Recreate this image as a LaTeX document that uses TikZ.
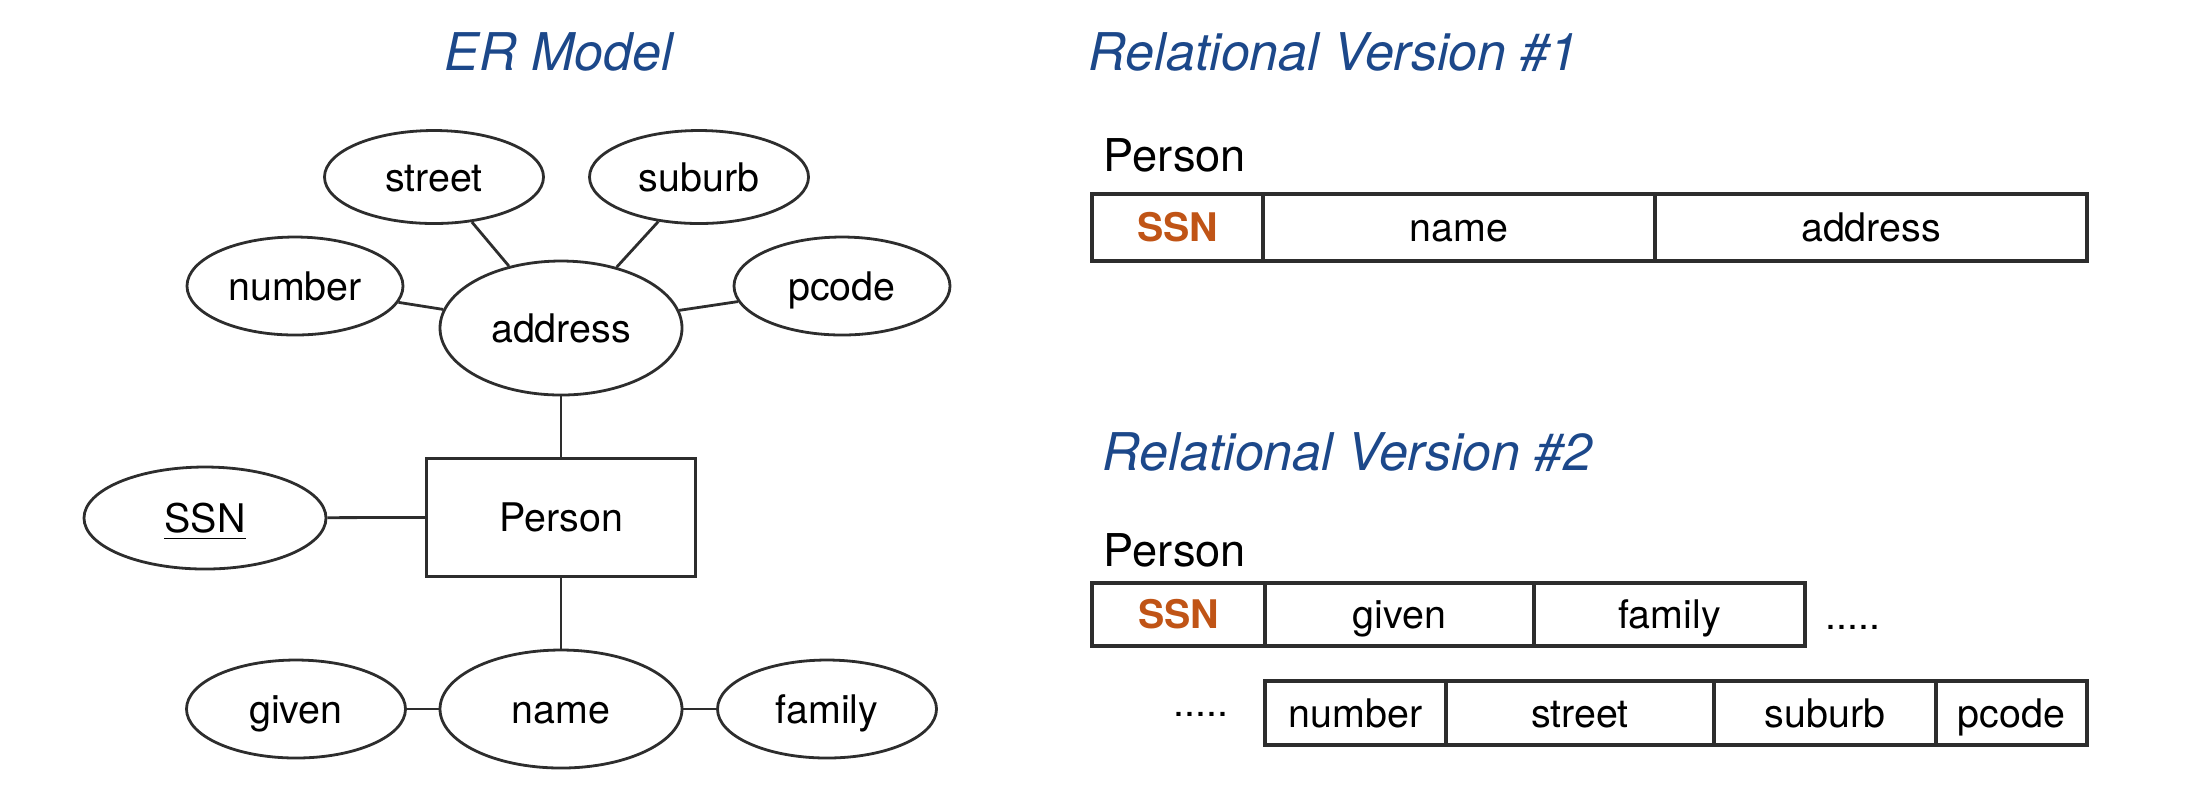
\documentclass[tikz,border=0pt]{standalone}
\usepackage{fontspec}
\setmainfont{TeX Gyre Heros}
\usetikzlibrary{shapes.geometric}
\definecolor{titleblue}{RGB}{28,72,138}
\definecolor{keyorange}{RGB}{192,84,22}
\definecolor{linegray}{RGB}{45,45,45}
\tikzset{
  txt/.style={font=\fontsize{9.85}{11}\selectfont, text height=7.8pt, text depth=0.7pt},
  attr/.style={draw=linegray, ellipse, inner sep=0pt, line width=0.7pt, txt},
  entity/.style={draw=linegray, rectangle, inner sep=0pt, line width=0.75pt, txt},
  conn/.style={draw=linegray, line width=0.7pt},
  title/.style={font=\fontsize{13}{15}\selectfont\itshape, text=titleblue, inner sep=0pt},
  rellabel/.style={font=\fontsize{11.3}{13}\selectfont, inner sep=0pt, anchor=base west},
  cell/.style={draw=linegray, rectangle, inner sep=0pt, outer sep=0pt, line width=0.85pt, txt, anchor=west},
  dots/.style={font=\fontsize{9.85}{11}\selectfont, inner sep=0pt, anchor=base west}
}
\begin{document}
\begin{tikzpicture}[x=0.25pt,y=-0.25pt]
\useasboundingbox (0,0) rectangle (2201,807);
% ER model
\node[title] (ertitle) at (559,52) {ER Model};
\node[attr, minimum width=54.75pt, minimum height=23.25pt] (street) at (434,177) {street};
\node[attr, minimum width=54.75pt, minimum height=23.25pt] (suburb) at (699,177) {suburb};
\node[attr, minimum width=54pt, minimum height=24.5pt] (number) at (295,286) {number};
\node[attr, minimum width=54pt, minimum height=24.5pt] (pcode) at (842,286) {pcode};
\node[attr, minimum width=60.5pt, minimum height=33.5pt] (address) at (561,328) {address};
\node[entity, minimum width=67.25pt, minimum height=29.5pt] (person) at (561,517) {Person};
\node[attr, minimum width=60.5pt, minimum height=25.5pt] (ssn) at (205,518) {\underline{SSN}};
\node[attr, minimum width=60.5pt, minimum height=29.5pt] (name) at (561,709) {name};
\node[attr, minimum width=54.75pt, minimum height=24.5pt] (given) at (296,709) {given};
\node[attr, minimum width=54.75pt, minimum height=24.5pt] (family) at (827,709) {family};
\draw[conn] (street) -- (address);
\draw[conn] (suburb) -- (address);
\draw[conn] (number) -- (address);
\draw[conn] (pcode) -- (address);
\draw[conn] (address) -- (person);
\draw[conn] (ssn) -- (person);
\draw[conn] (person) -- (name);
\draw[conn] (given) -- (name);
\draw[conn] (family) -- (name);
% Relational version 1
\node[title, anchor=west] (rv1) at (1088,52) {Relational Version \#1};
\node[rellabel] (p1) at (1103,171) {Person};
\node[cell, minimum width=42.75pt, minimum height=16.75pt] (a1) at (1092,227.5) {\textcolor{keyorange}{\bfseries SSN}};
\node[cell, minimum width=98pt, minimum height=16.75pt] (a2) at (a1.east) {name};
\node[cell, minimum width=108pt, minimum height=16.75pt] (a3) at (a2.east) {address};
% Relational version 2
\node[title, anchor=west] (rv2) at (1102,452) {Relational Version \#2};
\node[rellabel] (p2) at (1103,566) {Person};
\node[cell, minimum width=43.25pt, minimum height=15.75pt] (b1) at (1092,614.5) {\textcolor{keyorange}{\bfseries SSN}};
\node[cell, minimum width=67.25pt, minimum height=15.75pt] (b2) at (b1.east) {given};
\node[cell, minimum width=67.75pt, minimum height=15.75pt] (b3) at (b2.east) {family};
\node[dots] (d1) at (1825,629) {.....};
\node[dots] (d2) at (1173,716) {.....};
\node[cell, minimum width=45.25pt, minimum height=16pt] (c1) at (1265,713) {number};
\node[cell, minimum width=67pt, minimum height=16pt] (c2) at (c1.east) {street};
\node[cell, minimum width=55.5pt, minimum height=16pt] (c3) at (c2.east) {suburb};
\node[cell, minimum width=37.75pt, minimum height=16pt] (c4) at (c3.east) {pcode};
\end{tikzpicture}
\end{document}
